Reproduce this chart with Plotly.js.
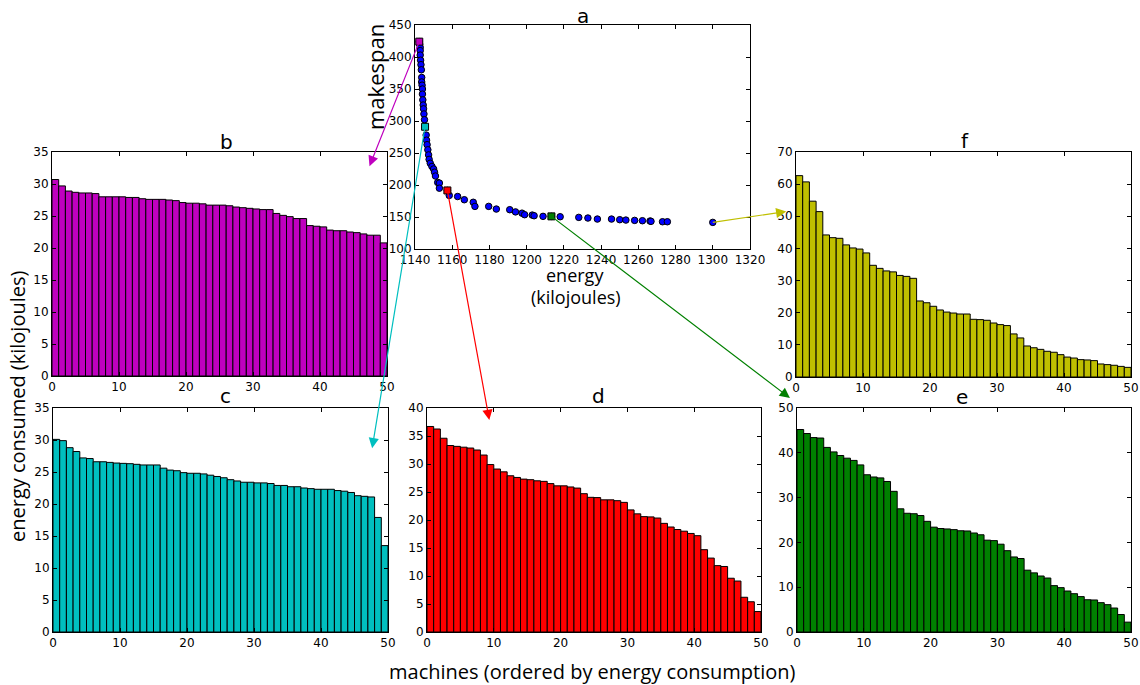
<!DOCTYPE html>
<html>
<head>
<meta charset="utf-8">
<script src="https://cdn.plot.ly/plotly-3.0.1.min.js"></script>
<style>html,body{margin:0;padding:0;background:#fff;}#chart{width:1140px;height:685px;}</style>
</head>
<body>
<div id="chart"></div>
<script>
// ---- Panel a: Pareto front (energy vs makespan) ----
var frontEnergy = [1142.3,1142.5,1142.8,1142.8,1142.8,1143.0,1143.2,1143.4,1143.6,1143.6,1143.8,1144.0,1144.0,1144.2,1144.4,1144.6,1144.8,1145.1,1145.4,1146.0,1146.2,1146.5,1146.9,1147.3,1147.6,1148.2,1149.1,1150.0,1150.5,1151.0,1152.2,1153.1,1153.1,1157.4,1158.4,1162.9,1166.5,1171.3,1172.2,1179.6,1183.7,1190.9,1194.0,1197.5,1198.9,1203.0,1204.0,1208.8,1213.3,1218.0,1228.0,1232.9,1238.0,1245.6,1250.0,1253.3,1258.0,1262.2,1266.3,1266.8,1273.0,1275.6,1300.0];
var frontMakespan = [424,420,415,410,403,395,388,380,368,361,356,350,342,333,325,319,311,302,291,278,270,263,255,247,240,234,229,225,220,214,204,203,195,191.5,183.7,182,177,173,166.6,166.6,162.4,161.4,158,156,153.6,153,152,151,151,150.4,149.4,148.4,146.8,146.8,145.8,145.2,144.7,144.2,143.7,143.2,142.6,142.6,141.6];

// selected solutions (highlighted in panel a, detailed in b..f)
var selLabels   = ['b','c','d','e','f'];
var selEnergy   = [1142.3, 1145.4, 1157.4, 1213.3, 1300.0];
var selMakespan = [424, 291, 191.5, 151, 141.6];
var selColors   = ['#bf00bf','#00bfbf','#ff0000','#008000','#bfbf00'];

// ---- Energy per machine (ordered) for each selected solution ----
var energyB = [30.7,29.7,28.9,28.7,28.6,28.6,28.5,28.0,28.0,28.0,28.0,27.9,27.9,27.7,27.6,27.6,27.6,27.5,27.4,27.1,27.0,27.0,26.9,26.7,26.7,26.7,26.6,26.4,26.3,26.2,26.1,26.0,26.0,25.4,25.1,24.9,24.6,24.6,23.5,23.4,23.3,22.8,22.7,22.7,22.5,22.4,22.2,22.0,22.0,20.8];
var energyC = [30.1,29.9,28.8,28.2,27.2,27.1,26.6,26.6,26.5,26.4,26.35,26.3,26.2,26.1,26.1,26.1,25.6,25.3,25.2,24.9,24.8,24.8,24.7,24.5,24.3,24.1,23.8,23.6,23.4,23.4,23.3,23.3,23.2,22.9,22.9,22.7,22.7,22.5,22.4,22.3,22.3,22.3,22.1,22.0,21.8,21.3,21.2,21.1,17.9,13.5];
var energyD = [36.7,36.25,34.6,33.3,33.15,33.0,32.85,32.5,31.6,29.9,29.1,28.6,27.9,27.6,27.3,27.2,27.0,26.9,26.5,26.1,26.1,25.9,25.7,24.7,24.05,24.0,23.6,23.6,23.45,23.15,21.8,21.1,20.6,20.55,20.35,19.4,18.75,18.3,18.0,17.6,17.2,14.7,13.2,11.85,11.7,9.6,9.1,6.2,5.4,3.65];
var energyE = [45.2,44.3,43.4,43.3,41.2,40.2,39.4,38.8,38.3,37.3,35.1,34.6,34.4,33.6,31.4,27.5,26.5,26.4,26.0,24.7,23.4,23.1,23.0,22.85,22.6,22.55,22.1,21.7,20.5,20.4,19.6,18.15,16.75,16.4,13.8,13.2,12.5,12.05,10.35,9.9,9.15,8.55,7.9,7.2,7.15,6.55,6.1,5.35,3.9,2.2];
var energyF = [62.65,60.7,54.7,51.45,44.2,43.35,43.15,41.1,40.15,39.8,38.6,34.75,33.8,33.0,32.7,31.6,31.3,30.7,23.65,23.1,22.0,20.85,20.2,19.9,19.6,19.6,17.95,17.85,17.65,16.8,16.3,16.0,13.4,12.15,9.65,9.1,8.6,8.0,7.7,6.95,6.2,5.9,5.4,5.3,5.1,4.05,3.85,3.65,3.3,3.0];
var machineIndex = energyB.map(function(_, i){ return i; });

var xTicksA = [1140,1160,1180,1200,1220,1240,1260,1280,1300,1320];
var yTicksA = [100,150,200,250,300,350,400,450];
var barXTicks = [0,10,20,30,40,50];

var W = 1140, H = 685;
function px(x){ return x / W; }
function py(y){ return 1 - y / H; }

var tickFont = {family: 'DejaVu Sans', size: 12, color: '#000'};
function axis(extra){
  var a = {showgrid:false, zeroline:false, showline:true, linecolor:'#000', linewidth:1,
           mirror:'ticks', ticks:'inside', ticklen:4, tickwidth:1, tickcolor:'#000',
           tickfont: tickFont, fixedrange:true};
  for (var k in extra) a[k] = extra[k];
  return a;
}

var traces = [];
traces.push({type:'scatter', mode:'markers', x:frontEnergy, y:frontMakespan, xaxis:'x', yaxis:'y',
  marker:{color:'#0000ff', size:6.5, line:{color:'#000', width:1}}, cliponaxis:false, hoverinfo:'skip'});
// highlighted solutions (squares) except last (circle kept blue)
traces.push({type:'scatter', mode:'markers', x:selEnergy.slice(0,4), y:selMakespan.slice(0,4), xaxis:'x', yaxis:'y',
  marker:{color:selColors.slice(0,4), size:7, symbol:'square', line:{color:'#000', width:1}}, cliponaxis:false, hoverinfo:'skip'});

var barSets = [energyB, energyC, energyD, energyE, energyF];
for (var s = 0; s < 5; s++) {
  traces.push({type:'bar', x:machineIndex, y:barSets[s], width:1, offset:0,
    xaxis:'x'+(s+2), yaxis:'y'+(s+2),
    marker:{color:selColors[s], line:{color:'#000', width:1}}, hoverinfo:'skip'});
}

// domains in pixels [left, right, top, bottom]
var boxes = {
  a:[415,750,25,249], b:[52,387,152,376], c:[53,388,408,632],
  d:[427,761,408,632], e:[797,1131,408,632], f:[796,1131,152,377]
};
function dom(b){ return {x:[px(b[0]), px(b[1])], y:[py(b[3]), py(b[2])]}; }

var layout = {
  width:W, height:H, margin:{l:0,r:0,t:0,b:0}, showlegend:false,
  paper_bgcolor:'#fff', plot_bgcolor:'#fff', bargap:0,
  font:{family:'DejaVu Sans', color:'#000'},
  xaxis: axis({domain:dom(boxes.a).x, anchor:'y', range:[1140,1320], tickvals:xTicksA}),
  yaxis: axis({domain:dom(boxes.a).y, anchor:'x', range:[100,450], tickvals:yTicksA}),
  xaxis2: axis({domain:dom(boxes.b).x, anchor:'y2', range:[0,50], tickvals:barXTicks}),
  yaxis2: axis({domain:dom(boxes.b).y, anchor:'x2', range:[0,35], dtick:5}),
  xaxis3: axis({domain:dom(boxes.c).x, anchor:'y3', range:[0,50], tickvals:barXTicks}),
  yaxis3: axis({domain:dom(boxes.c).y, anchor:'x3', range:[0,35], dtick:5}),
  xaxis4: axis({domain:dom(boxes.d).x, anchor:'y4', range:[0,50], tickvals:barXTicks}),
  yaxis4: axis({domain:dom(boxes.d).y, anchor:'x4', range:[0,40], dtick:5}),
  xaxis5: axis({domain:dom(boxes.e).x, anchor:'y5', range:[0,50], tickvals:barXTicks}),
  yaxis5: axis({domain:dom(boxes.e).y, anchor:'x5', range:[0,50], dtick:10}),
  xaxis6: axis({domain:dom(boxes.f).x, anchor:'y6', range:[0,50], tickvals:barXTicks}),
  yaxis6: axis({domain:dom(boxes.f).y, anchor:'x6', range:[0,70], dtick:10}),
  annotations: []
};

var titleFont = {family:'DejaVu Sans', size:20, color:'#000'};
var labelFont = {family:'Open Sans', size:18, color:'#000'};
var bigLabelFont = {family:'Open Sans', size:20, color:'#000'};
function txt(t, x, y, font, angle){
  layout.annotations.push({text:t, xref:'paper', yref:'paper', x:px(x), y:py(y),
    xanchor:'center', yanchor:'middle', showarrow:false, font:font, textangle:angle||0});
}
// panel titles
txt('a', 583, 16, titleFont);
txt('b', 226, 142, titleFont);
txt('c', 225, 396, titleFont);
txt('d', 598, 396, titleFont);
txt('e', 962, 397, titleFont);
txt('f', 965, 141, titleFont);
// axis labels
txt('makespan', 375, 77, {family:'Open Sans', size:22, color:'#000'}, -90);
txt('energy', 575, 275, labelFont);
txt('(kilojoules)', 576, 297, labelFont);
txt('energy consumed (kilojoules)', 17, 406, bigLabelFont, -90);
txt('machines (ordered by energy consumption)', 592, 671, bigLabelFont);

// arrows from selected solutions to their detail panels (head offsets in pixels)
var arrowDX = [-50, -53, 42, 239, 74];
var arrowDY = [125, 322, 230, 182, -11];
for (var k = 0; k < 5; k++) {
  layout.annotations.push({text:'', xref:'x', yref:'y', x:selEnergy[k], y:selMakespan[k],
    axref:'pixel', ayref:'pixel', ax:arrowDX[k], ay:arrowDY[k], showarrow:true,
    arrowside:'start', startarrowhead:2, arrowhead:2, startarrowsize:1.7, arrowsize:1.7, arrowwidth:1.2,
    arrowcolor:selColors[k], standoff:0, startstandoff:0, borderpad:0});
}

Plotly.newPlot('chart', traces, layout, {displayModeBar:false, staticPlot:true});
</script>
</body>
</html>
